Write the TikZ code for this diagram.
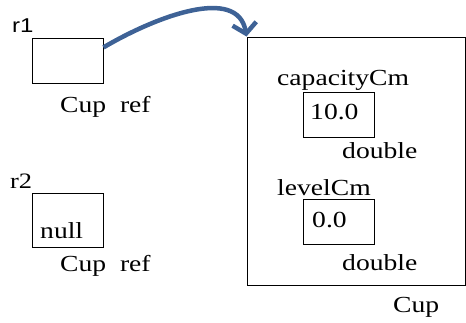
\documentclass[tikz,border=0pt]{standalone}
\usepackage{fontspec}
\usepackage{graphicx}
\setmainfont{Liberation Serif}
\newfontfamily\rsans{Liberation Sans}
\newcommand{\widetxt}[1]{\scalebox{1.2}[1]{#1}}
\usetikzlibrary{arrows.meta}
\definecolor{arrowblue}{RGB}{62,98,150}
\begin{document}
\begin{tikzpicture}[x=1pt,y=-1pt,
  box/.style={draw=black,line width=1pt,minimum width=71pt,inner sep=0pt},
  txt/.style={anchor=base west,inner sep=0pt,font=\fontsize{23}{27}\selectfont},
  ptr/.style={draw=arrowblue,line width=4.5pt,-{Straight Barb[length=10pt,width=24pt,line width=4.5pt]}}]
\useasboundingbox (0,0) rectangle (466,322);
% reference variables
\node[txt,font=\rsans\fontsize{20}{24}\selectfont] (r1lbl) at (12,32) {\widetxt{r1}};
\node[box,minimum height=45pt] (r1box) at (67.5,60.5) {};
\node[txt] (r1type) at (60,112) {\widetxt{Cup~ ref}};
\node[txt,font=\fontsize{22}{26}\selectfont] (r2lbl) at (10,188) {\widetxt{r2}};
\node[box,minimum height=54pt] (r2box) at (67.5,220) {};
\node[txt] (r2val) at (40,238) {\widetxt{null}};
\node[txt] (r2type) at (60,271) {\widetxt{Cup~ ref}};
% object
\node[box,minimum width=218pt,minimum height=248pt] (cup) at (356,161) {};
\node[txt] (cuplbl) at (393,312) {\widetxt{Cup}};
\node[txt] (caplbl) at (277,85) {\widetxt{capacityCm}};
\node[box,minimum height=45pt] (capbox) at (338.5,114.5) {};
\node[txt] (capval) at (310,119) {\widetxt{10.0}};
\node[txt] (captype) at (342,158) {\widetxt{double}};
\node[txt] (levlbl) at (277,195) {\widetxt{levelCm}};
\node[box,minimum height=45pt] (levbox) at (338.5,221.5) {};
\node[txt] (levval) at (312,227) {\widetxt{0.0}};
\node[txt] (levtype) at (342,270) {\widetxt{double}};
% pointer
\draw[ptr] (r1box.20) .. controls (155,17) and (238,-15) .. (cup.north west);
\end{tikzpicture}
\end{document}
